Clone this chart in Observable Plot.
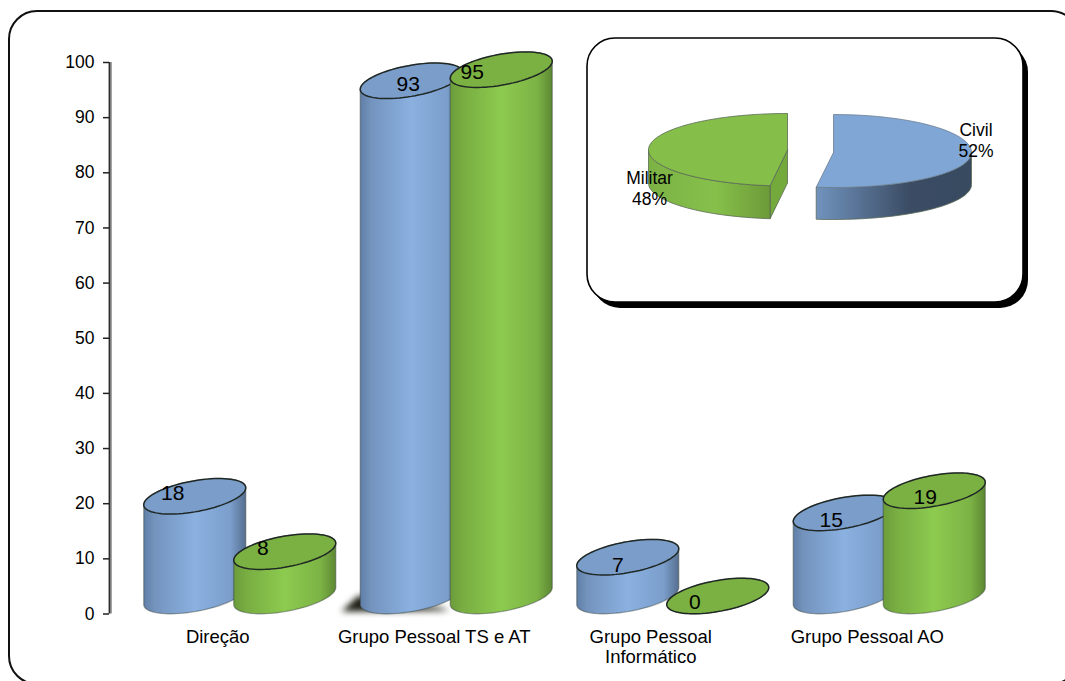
<!DOCTYPE html>
<html lang="pt">
<head>
<meta charset="utf-8">
<title>Pessoal por grupo</title>
<script src="https://cdn.jsdelivr.net/npm/d3@7"></script>
<script src="https://cdn.jsdelivr.net/npm/@observablehq/plot@0.6"></script>
<style>
  html, body { margin: 0; padding: 0; background: #fff; }
  svg { display: block; }
</style>
</head>
<body>
<div id="chart"></div>
<script>
// Values per staff group
const groups = ["Direção", "Grupo Pessoal TS e AT", "Grupo Pessoal\nInformático", "Grupo Pessoal AO"];
const civilianValues = [18, 93, 7, 15];
const militaryValues = [8, 95, 0, 19];
const pieLabels = ["Civil", "Militar"];
const pieShares = [52, 48];
const yTicks = [0, 10, 20, 30, 40, 50, 60, 70, 80, 90, 100];

// Scale ranges, and pixel helpers for the decoration placed around the data
const X0 = 109, STEP = 216.5, Y0 = 613.5, UNIT = 5.515;
const toX = (px) => (px - X0) / STEP;
const toY = (py) => (Y0 - py) / UNIT;

// Cylinder projection: the bars stand on a floor lifted and shifted from the axis plane
const FLOOR_DX = 22, FLOOR_PY = 595.5, BAR_UNIT = 5.54;
const RX = 51, TILT = 8.5, RY = 15.6, GAP = 45;

const ringPoint = (cx, cy, t) => ({
  x: toX(cx + RX * Math.cos(t)),
  y: toY(cy - TILT * Math.cos(t) - RY * Math.sin(t))
});
const sweep = (a, b, n = 40) => d3.range(n + 1).map((i) => a + (b - a) * i / n);

function barCentre(i, side) {
  return X0 + STEP * (i + 0.5) + FLOOR_DX + side * GAP;
}
function barTop(v) {
  return FLOOR_PY - v * BAR_UNIT;
}
// Silhouette of a cylinder: front half of the base ring, back half of the top ring
function bodyOutline(values, side) {
  return values.flatMap((v, i) => {
    const cx = barCentre(i, side), top = barTop(v);
    const pts = [
      ...sweep(Math.PI, 2 * Math.PI).map((t) => ringPoint(cx, FLOOR_PY, t)),
      ...sweep(0, Math.PI).map((t) => ringPoint(cx, top, t))
    ];
    pts.push(pts[0]);
    return pts.map((p) => ({...p, id: i}));
  });
}
function capOutline(values, side) {
  return values.flatMap((v, i) => {
    const cx = barCentre(i, side), top = barTop(v);
    return sweep(0, 2 * Math.PI, 80).map((t) => ({...ringPoint(cx, top, t), id: i}));
  });
}

// Value labels sit by hand on each cap; the shifts are pixels from the cap centre
const series = [
  {values: civilianValues, side: -1, body: "url(#barBlue)", cap: "#7a9dc9",
   labelShift: [[-22, -3], [-3, 3], [-10, 8], [-13, 7]]},
  {values: militaryValues, side: 1, body: "url(#barGreen)", cap: "#7bb042",
   labelShift: [[-22, -3], [-29, 3], [-23, 6], [-9, 7]]}
];

const cylinderMarks = series.flatMap(({values, side, body, cap}) => [
  Plot.line(bodyOutline(values, side), {
    x: "x", y: "y", z: "id", fill: body,
    stroke: "#38423f", strokeOpacity: 0.45, strokeWidth: 1.3, curve: "linear"
  }),
  Plot.line(capOutline(values, side), {
    x: "x", y: "y", z: "id", fill: cap,
    stroke: "#1f2825", strokeWidth: 1.5, curve: "linear"
  })
]);

const valueLabels = series.flatMap(({values, side, labelShift}) =>
  values.map((v, i) => ({
    text: String(v),
    x: toX(barCentre(i, side) + labelShift[i][0]),
    y: toY(barTop(v) + labelShift[i][1])
  }))
);

// Smear of shadow at the foot of the tall pair
const footShadow = [
  {x: toX(341), y: toY(611)}, {x: toX(358), y: toY(595)}, {x: toX(380), y: toY(600)},
  {x: toX(440), y: toY(607)}, {x: toX(449), y: toY(610)}, {x: toX(341), y: toY(611)}
];

// Exploded pie in the inset: slices start at twelve o'clock and share the front cut
const total = d3.sum(pieShares);
const civilEnd = 2 * Math.PI * pieShares[0] / total;
const militaryStart = 2 * Math.PI * (1 - pieShares[1] / total);
const civilDisc = {cx: 833, cy: 152, rx: 138, back: 38, front: 35, depth: 32};
const militaryDisc = {cx: 787, cy: 149.5, rx: 139, back: 36.5, front: 36, depth: 33};

const rim = (d, a, drop = 0) => {
  const c = Math.cos(a);
  return {
    x: toX(d.cx + d.rx * Math.sin(a)),
    y: toY(d.cy - (c > 0 ? d.back : d.front) * c + drop)
  };
};
const apex = (d, drop = 0) => ({x: toX(d.cx), y: toY(d.cy + drop)});
const closed = (pts) => [...pts, pts[0]];

const civilTop = closed([apex(civilDisc), ...sweep(0, civilEnd, 80).map((a) => rim(civilDisc, a))]);
const civilSide = closed([
  ...sweep(Math.PI / 2, civilEnd).map((a) => rim(civilDisc, a)),
  ...sweep(civilEnd, Math.PI / 2).map((a) => rim(civilDisc, a, civilDisc.depth))
]);
const militaryTop = closed([apex(militaryDisc), ...sweep(militaryStart, 2 * Math.PI, 80).map((a) => rim(militaryDisc, a))]);
const militarySide = closed([
  ...sweep(militaryStart, 1.5 * Math.PI).map((a) => rim(militaryDisc, a)),
  ...sweep(1.5 * Math.PI, militaryStart).map((a) => rim(militaryDisc, a, militaryDisc.depth))
]);
const militaryCut = closed([
  apex(militaryDisc), rim(militaryDisc, militaryStart),
  rim(militaryDisc, militaryStart, militaryDisc.depth), apex(militaryDisc, militaryDisc.depth)
]);

const pieText = [
  {text: `${pieLabels[0]}\n${pieShares[0]}%`, x: toX(975.5), y: toY(139.5)},
  {text: `${pieLabels[1]}\n${pieShares[1]}%`, x: toX(649), y: toY(187.5)}
];

function gradients() {
  const g = document.createElementNS("http://www.w3.org/2000/svg", "g");
  g.innerHTML = `<defs>
    <linearGradient id="barBlue">
      <stop offset="0" stop-color="#5f7ea8"/><stop offset="0.1" stop-color="#7393bd"/>
      <stop offset="0.5" stop-color="#8bb1e1"/><stop offset="0.85" stop-color="#7b9ecb"/>
      <stop offset="1" stop-color="#566f90"/>
    </linearGradient>
    <linearGradient id="barGreen">
      <stop offset="0" stop-color="#6b9c3a"/><stop offset="0.12" stop-color="#78ad42"/>
      <stop offset="0.5" stop-color="#8dcb4f"/><stop offset="0.85" stop-color="#7cb345"/>
      <stop offset="1" stop-color="#5d8832"/>
    </linearGradient>
    <linearGradient id="pieBlue">
      <stop offset="0" stop-color="#7093bd"/><stop offset="0.6" stop-color="#3b4c64"/>
      <stop offset="1" stop-color="#374a60"/>
    </linearGradient>
    <linearGradient id="pieGreen">
      <stop offset="0" stop-color="#7cb245"/><stop offset="0.55" stop-color="#86c04b"/>
      <stop offset="1" stop-color="#6c9a38"/>
    </linearGradient>
  </defs>`;
  return g;
}

const pieLine = (pts, fill, stroke = "#5b6a55") =>
  Plot.line(pts, {x: "x", y: "y", fill, stroke, strokeWidth: 0.8, curve: "linear"});

const chart = Plot.plot({
  width: 1065,
  height: 681,
  marginLeft: X0,
  marginRight: 1065 - 975,
  marginTop: 62,
  marginBottom: 681 - Y0,
  style: {background: "#fff", fontFamily: "'Liberation Sans', Arial, sans-serif", color: "#000", overflow: "hidden"},
  x: {domain: [0, 4], range: [X0, 975], axis: null},
  y: {domain: [0, 100], range: [Y0, 62], axis: null},
  marks: [
    gradients,
    // Outer rounded panel, running off the page at the right and bottom
    Plot.rect([{}], {
      x1: toX(9), x2: toX(1079), y1: toY(11), y2: toY(684), rx: 28,
      fill: "#fff", stroke: "#111", strokeWidth: 2
    }),
    // Value axis with its soft shadow
    Plot.ruleX([0], {y1: 0, y2: 100, dx: 1.6, stroke: "#9a9a9a", strokeWidth: 1.6}),
    Plot.ruleX([0], {y1: 0, y2: 100, stroke: "#2b2b2b", strokeWidth: 1.8}),
    Plot.axisY({
      ticks: yTicks, tickSize: 6, tickPadding: 9, label: null, fontSize: 17.5,
      stroke: "#222", strokeWidth: 1.5, textStroke: "none"
    }),
    Plot.axisX(groups.map((_, i) => i + 0.5), {
      tickSize: 0, tickPadding: 14.5, label: null, fontSize: 18.5, lineHeight: 1.08,
      tickFormat: (d) => groups[d - 0.5]
    }),
    Plot.line(footShadow, {x: "x", y: "y", fill: "#1e1e14", stroke: "none", imageFilter: "blur(3px)"}),
    ...cylinderMarks,
    Plot.text(valueLabels, {x: "x", y: "y", text: "text", fontSize: 21, fill: "#000"}),
    // Inset panel with a hard drop shadow
    Plot.rect([{}], {
      x1: toX(592), x2: toX(1028), y1: toY(44), y2: toY(308), rx: 28,
      fill: "#000", imageFilter: "blur(0.6px)"
    }),
    Plot.rect([{}], {
      x1: toX(587), x2: toX(1023), y1: toY(38), y2: toY(302), rx: 28,
      fill: "#fff", stroke: "#000", strokeWidth: 1.6
    }),
    pieLine(militaryCut, "#74a93c"),
    pieLine(militarySide, "url(#pieGreen)"),
    pieLine(militaryTop, "#85bf4a"),
    pieLine(civilSide, "url(#pieBlue)"),
    pieLine(civilTop, "#7fa6d4", "#6c7f93"),
    Plot.text(pieText, {x: "x", y: "y", text: "text", fontSize: 17.5, lineHeight: 1.17, fill: "#000"})
  ]
});
document.getElementById("chart").append(chart);
</script>
</body>
</html>
